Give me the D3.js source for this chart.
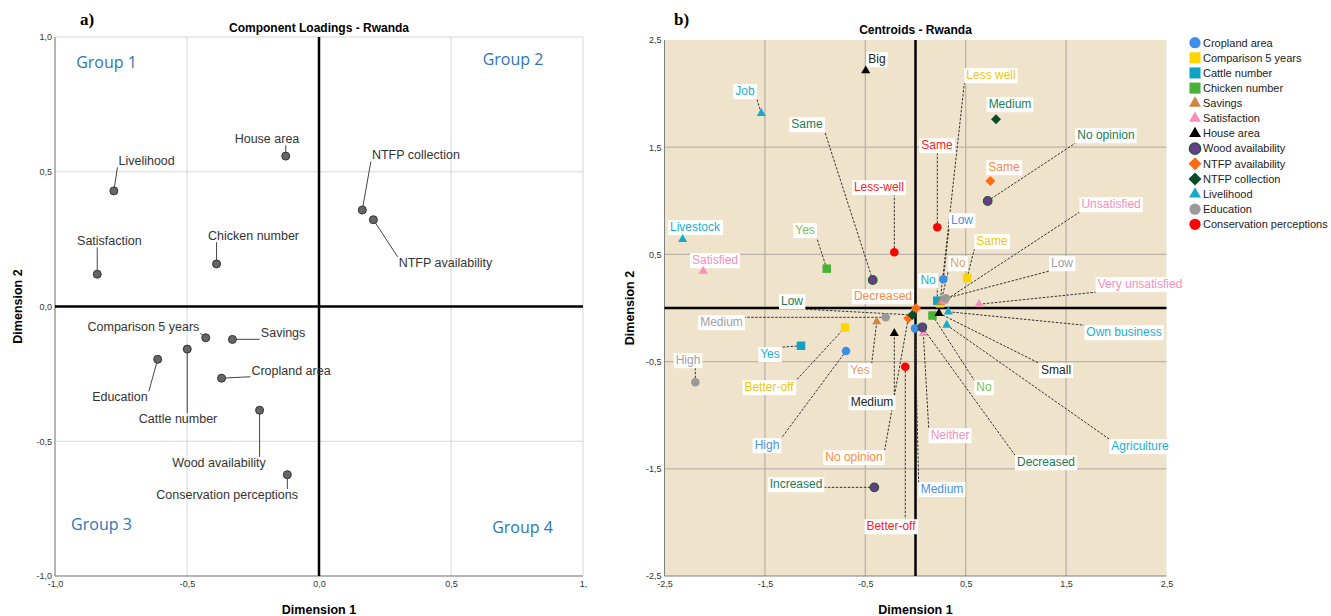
<!DOCTYPE html>
<html>
<head>
<meta charset="utf-8">
<script src="https://cdn.jsdelivr.net/npm/d3@7"></script>
<style>
  body { margin: 0; background: #fff; }
  text { font-family: Arial, "Liberation Sans", sans-serif; }
</style>
</head>
<body>
<svg id="chart" width="1331" height="616"></svg>
<script>
// ---- a) component loadings ----
var loadingNames = ["Livelihood", "House area", "Satisfaction", "Chicken number", "NTFP collection",
  "NTFP availability", "Comparison 5 years", "Savings", "Cattle number", "Education",
  "Cropland area", "Wood availability", "Conservation perceptions"];
var loadingDim1 = [-0.777, -0.126, -0.840, -0.388, 0.164, 0.206, -0.429, -0.328, -0.499, -0.611, -0.369, -0.225, -0.120];
var loadingDim2 = [0.429, 0.558, 0.120, 0.158, 0.358, 0.322, -0.116, -0.122, -0.158, -0.196, -0.266, -0.385, -0.624];
// where each label sits (loading units)
var loadingLabelDim1 = [-0.653, -0.197, -0.794, -0.248, 0.367, 0.479, -0.665, -0.136, -0.534, -0.754, -0.106, -0.379, -0.348];
var loadingLabelDim2 = [0.540, 0.622, 0.243, 0.262, 0.562, 0.163, -0.076, -0.098, -0.417, -0.336, -0.237, -0.579, -0.698];

var groupNames = ["Group 1", "Group 2", "Group 3", "Group 4"];
var groupDim1 = [-0.805, 0.735, -0.824, 0.771];
var groupDim2 = [0.904, 0.918, -0.807, -0.818];

var loadingTicks = [-1, -0.5, 0, 0.5, 1];
var loadingXTickLabels = ["-1,0", "-0,5", "0,0", "0,5", "1,"];
var loadingYTickLabels = ["-1,0", "-0,5", "0,0", "0,5", "1,0"];

// ---- b) centroids ----
var centroidVars = ["Cropland area", "Comparison 5 years", "Cattle number", "Chicken number", "Savings",
  "Satisfaction", "House area", "Wood availability", "NTFP availability", "NTFP collection",
  "Livelihood", "Education", "Conservation perceptions"];
var centroidVar = [0, 0, 0, 1, 1, 1, 2, 2, 3, 3, 4, 4, 5, 5, 5, 5, 6, 6, 6, 7, 7, 7, 7, 8, 8, 8, 9, 9, 10, 10, 10, 10, 11, 11, 11, 12, 12, 12];
var centroidCat = ["Low", "Medium", "High",
  "Less well", "Same", "Better-off",
  "No", "Yes",
  "Yes", "No",
  "Yes", "No",
  "Satisfied", "Unsatisfied", "Very unsatisfied", "Neither",
  "Big", "Medium", "Small",
  "Same", "No opinion", "Increased", "Decreased",
  "Same", "Decreased", "No opinion",
  "Medium", "Low",
  "Job", "Livestock", "Own business", "Agriculture",
  "Low", "Medium", "High",
  "Same", "Less-well", "Better-off"];
var centroidDim1 = [0.277, -0.005, -0.692,
  0.244, 0.513, -0.702,
  0.217, -1.140,
  -0.884, 0.169,
  -0.386, 0.254,
  -2.114, 0.284, 0.632, 0.078,
  -0.496, -0.211, 0.234,
  -0.426, 0.719, -0.410, 0.068,
  0.745, 0.005, -0.072,
  0.802, -0.032,
  -1.536, -2.319, 0.327, 0.311,
  0.301, -0.297, -2.193,
  0.217, -0.211, -0.102];
var centroidDim2 = [0.268, -0.190, -0.401,
  0.044, 0.280, -0.182,
  0.068, -0.352,
  0.367, -0.070,
  -0.128, 0.056,
  0.345, 0.065, 0.035, -0.236,
  2.214, -0.236, -0.049,
  0.261, 0.998, -1.673, -0.180,
  1.185, -0.003, -0.096,
  1.760, -0.065,
  1.816, 0.641, -0.035, -0.159,
  0.090, -0.087, -0.693,
  0.753, 0.520, -0.548];
// label centres (dimension units)
var centroidLabelDim1 = [0.463, 0.264, -1.479,
  0.752, 0.762, -1.459,
  0.125, -1.449,
  -1.100, 0.682,
  -0.553, 0.423,
  -1.997, 1.948, 2.236, 0.344,
  -0.383, -0.433, 1.400,
  -1.081, 1.897, -1.190, 1.300,
  0.881, -0.324, -0.613,
  0.941, -1.230,
  -1.699, -2.196, 2.077, 2.236,
  1.459, -1.932, -2.266,
  0.214, -0.364, -0.244];
var centroidLabelDim2 = [0.821, -1.688, -1.278,
  2.173, 0.625, -0.737,
  0.261, -0.429,
  0.728, -0.737,
  -0.578, 0.420,
  0.448, 0.970, 0.224, -1.185,
  2.323, -0.877, -0.578,
  1.716, 1.614, -1.642, -1.437,
  1.315, 0.112, -1.390,
  1.903, 0.065,
  2.024, 0.756, -0.224, -1.287,
  0.420, -0.131, -0.485,
  1.520, 1.129, -2.034];

var centroidTicks = [-2.5, -1.5, -0.5, 0.5, 1.5, 2.5];
var centroidTickLabels = ["-2,5", "-1,5", "-0,5", "0,5", "1,5", "2,5"];

// marker look per variable
var varShape = ["circle", "square", "square", "square", "triangle", "triangle", "triangle",
  "circle", "diamond", "diamond", "triangle", "circle", "circle"];
var varFill = ["#3d8ee6", "#ffd400", "#0fa2c4", "#47b236", "#cf8641", "#f68fbd", "#000000",
  "#6b3a8c", "#ff6a10", "#0b4d2a", "#18aacb", "#999999", "#ff0000"];
var varText = ["#4a8fe0", "#f0c800", "#19b0d0", "#7cc04e", "#e0a070", "#f590bb", "#222222",
  "#1d7a55", "#ff8a3d", "#1d7a55", "#19b0d0", "#a0a0a0", "#ff2020"];

var svg = d3.select("#chart");

function nearestOnBox(px, py, b) {
  return [Math.max(b.x, Math.min(px, b.x + b.width)), Math.max(b.y, Math.min(py, b.y + b.height))];
}

function symbolPath(shape, big) {
  var s = big ? 1.7 : 1;
  if (shape === "circle") return d3.symbol(d3.symbolCircle, 58 * s)();
  if (shape === "square") return d3.symbol(d3.symbolSquare, 72 * s)();
  if (shape === "triangle") return d3.symbol(d3.symbolTriangle, 36 * s)();
  return d3.symbol(d3.symbolSquare, 50 * s)();
}

// ================= panel a =================
var xa = d3.scaleLinear().domain([-1, 1]).range([55, 583]);
var ya = d3.scaleLinear().domain([-1, 1]).range([576, 37]);
var ga = svg.append("g");

ga.selectAll(".vgrid")
  .data(loadingTicks.filter(function(d) { return d !== 0; }))
  .enter().append("line")
  .attr("x1", function(d) { return xa(d); }).attr("x2", function(d) { return xa(d); })
  .attr("y1", ya(1)).attr("y2", ya(-1))
  .attr("stroke", "#d6d6d6").attr("stroke-width", 1);
ga.selectAll(".hgrid")
  .data(loadingTicks.filter(function(d) { return d !== 0; }))
  .enter().append("line")
  .attr("y1", function(d) { return ya(d); }).attr("y2", function(d) { return ya(d); })
  .attr("x1", xa(-1)).attr("x2", xa(1))
  .attr("stroke", "#d6d6d6").attr("stroke-width", 1);

ga.append("line").attr("x1", xa(-1)).attr("x2", xa(-1)).attr("y1", ya(1)).attr("y2", ya(-1))
  .attr("stroke", "#808080");
ga.append("line").attr("x1", xa(-1)).attr("x2", xa(1)).attr("y1", ya(-1)).attr("y2", ya(-1))
  .attr("stroke", "#808080");
ga.append("line").attr("x1", xa(0)).attr("x2", xa(0)).attr("y1", ya(1)).attr("y2", ya(-1))
  .attr("stroke", "#000").attr("stroke-width", 2.5);
ga.append("line").attr("x1", xa(-1)).attr("x2", xa(1)).attr("y1", ya(0)).attr("y2", ya(0))
  .attr("stroke", "#000").attr("stroke-width", 2.5);

var axA = ga.append("g").attr("transform", "translate(0," + ya(-1) + ")")
  .call(d3.axisBottom(xa).tickValues(loadingTicks).tickSize(0).tickPadding(5)
    .tickFormat(function(d, i) { return loadingXTickLabels[i]; }));
var ayA = ga.append("g").attr("transform", "translate(" + xa(-1) + ",0)")
  .call(d3.axisLeft(ya).tickValues(loadingTicks).tickSize(0).tickPadding(3)
    .tickFormat(function(d, i) { return loadingYTickLabels[i]; }));
[axA, ayA].forEach(function(a) {
  a.select(".domain").remove();
  a.selectAll("text").style("font-size", "9px").attr("fill", "#333")
    .style("font-family", "Arial, 'Liberation Sans', sans-serif");
});

ga.selectAll(".group").data(groupNames).enter().append("text")
  .attr("x", function(d, i) { return xa(groupDim1[i]); })
  .attr("y", function(d, i) { return ya(groupDim2[i]); })
  .attr("dy", "0.35em").attr("text-anchor", "middle")
  .style("font-family", "'Open Sans', sans-serif").style("font-size", "16px")
  .attr("fill", "#2e75b6").text(function(d) { return d; });

var loadLabels = ga.selectAll(".lload").data(loadingNames).enter().append("text")
  .attr("class", "lload")
  .attr("x", function(d, i) { return xa(loadingLabelDim1[i]); })
  .attr("y", function(d, i) { return ya(loadingLabelDim2[i]); })
  .attr("dy", "0.35em").attr("text-anchor", "middle")
  .style("font-size", "12.5px").attr("fill", "#333").text(function(d) { return d; });

loadLabels.each(function(d, i) {
  var b = this.getBBox();
  b = { x: b.x - 1, y: b.y + 1, width: b.width + 2, height: b.height - 2 };
  var px = xa(loadingDim1[i]), py = ya(loadingDim2[i]);
  var p = nearestOnBox(px, py, b);
  if (Math.hypot(p[0] - px, p[1] - py) > 4) {
    ga.insert("line", ".lload").attr("x1", px).attr("y1", py).attr("x2", p[0]).attr("y2", p[1])
      .attr("stroke", "#444").attr("stroke-width", 1);
  }
});

ga.selectAll(".dot").data(loadingNames).enter().append("circle")
  .attr("cx", function(d, i) { return xa(loadingDim1[i]); })
  .attr("cy", function(d, i) { return ya(loadingDim2[i]); })
  .attr("r", 4).attr("fill", "#666").attr("stroke", "#333").attr("stroke-width", 1);

ga.append("text").attr("x", xa(0)).attr("y", 32).attr("text-anchor", "middle")
  .style("font-size", "12px").style("font-weight", "bold").text("Component Loadings - Rwanda");
ga.append("text").attr("x", xa(0)).attr("y", 614).attr("text-anchor", "middle")
  .style("font-size", "12.5px").style("font-weight", "bold").text("Dimension 1");
ga.append("text").attr("transform", "translate(22," + ya(0) + ") rotate(-90)")
  .attr("text-anchor", "middle")
  .style("font-size", "12.5px").style("font-weight", "bold").text("Dimension 2");
ga.append("text").attr("x", 80).attr("y", 25)
  .style("font-family", "'Liberation Serif', 'DejaVu Serif', serif").style("font-size", "17px")
  .style("font-weight", "bold").text("a)");

// ================= panel b =================
var xb = d3.scaleLinear().domain([-2.5, 2.5]).range([664.5, 1166.5]);
var yb = d3.scaleLinear().domain([-2.5, 2.5]).range([576, 40]);
var gb = svg.append("g");

gb.append("rect").attr("x", xb(-2.5)).attr("y", yb(2.5))
  .attr("width", xb(2.5) - xb(-2.5)).attr("height", yb(-2.5) - yb(2.5))
  .attr("fill", "#efe3cc");

var inner = centroidTicks.filter(function(d) { return Math.abs(d) < 2.5; });
gb.selectAll(".vgrid").data(inner).enter().append("line")
  .attr("x1", function(d) { return xb(d); }).attr("x2", function(d) { return xb(d); })
  .attr("y1", yb(2.5)).attr("y2", yb(-2.5))
  .attr("stroke", "#b9b3aa").attr("stroke-width", 1.3);
gb.selectAll(".hgrid").data(inner).enter().append("line")
  .attr("y1", function(d) { return yb(d); }).attr("y2", function(d) { return yb(d); })
  .attr("x1", xb(-2.5)).attr("x2", xb(2.5))
  .attr("stroke", "#b9b3aa").attr("stroke-width", 1.3);

gb.append("line").attr("x1", xb(-2.5)).attr("x2", xb(-2.5)).attr("y1", yb(2.5)).attr("y2", yb(-2.5))
  .attr("stroke", "#808080");
gb.append("line").attr("x1", xb(-2.5)).attr("x2", xb(2.5)).attr("y1", yb(-2.5)).attr("y2", yb(-2.5))
  .attr("stroke", "#808080");
gb.append("line").attr("x1", xb(0)).attr("x2", xb(0)).attr("y1", yb(2.5)).attr("y2", yb(-2.5))
  .attr("stroke", "#000").attr("stroke-width", 2.5);
gb.append("line").attr("x1", xb(-2.5)).attr("x2", xb(2.5)).attr("y1", yb(0)).attr("y2", yb(0))
  .attr("stroke", "#000").attr("stroke-width", 2.5);

var axB = gb.append("g").attr("transform", "translate(0," + yb(-2.5) + ")")
  .call(d3.axisBottom(xb).tickValues(centroidTicks).tickSize(0).tickPadding(5)
    .tickFormat(function(d, i) { return centroidTickLabels[i]; }));
var ayB = gb.append("g").attr("transform", "translate(" + xb(-2.5) + ",0)")
  .call(d3.axisLeft(yb).tickValues(centroidTicks).tickSize(0).tickPadding(3)
    .tickFormat(function(d, i) { return centroidTickLabels[i]; }));
[axB, ayB].forEach(function(a) {
  a.select(".domain").remove();
  a.selectAll("text").style("font-size", "9px").attr("fill", "#333")
    .style("font-family", "Arial, 'Liberation Sans', sans-serif");
});

var leaderLayer = gb.append("g");
var labelLayer = gb.append("g");
var markLayer = gb.append("g");

var cLabels = labelLayer.selectAll("g").data(centroidCat).enter().append("g");
cLabels.append("rect").attr("fill", "#fff");
cLabels.append("text")
  .attr("x", function(d, i) { return xb(centroidLabelDim1[i]); })
  .attr("y", function(d, i) { return yb(centroidLabelDim2[i]); })
  .attr("dy", "0.35em").attr("text-anchor", "middle")
  .style("font-size", "12px")
  .attr("fill", function(d, i) { return varText[centroidVar[i]]; })
  .text(function(d) { return d; });

cLabels.each(function(d, i) {
  var t = d3.select(this).select("text").node().getBBox();
  var b = { x: t.x - 2, y: t.y, width: t.width + 4, height: t.height + 1 };
  d3.select(this).select("rect").attr("x", b.x).attr("y", b.y).attr("width", b.width).attr("height", b.height);
  var px = xb(centroidDim1[i]), py = yb(centroidDim2[i]);
  var p = nearestOnBox(px, py, b);
  if (Math.hypot(p[0] - px, p[1] - py) > 8) {
    leaderLayer.append("line").attr("x1", px).attr("y1", py).attr("x2", p[0]).attr("y2", p[1])
      .attr("stroke", "#333").attr("stroke-width", 1).attr("stroke-dasharray", "2.5,1.5");
  }
});

markLayer.selectAll("path").data(centroidCat).enter().append("path")
  .attr("d", function(d, i) { return symbolPath(varShape[centroidVar[i]], false); })
  .attr("transform", function(d, i) {
    var r = varShape[centroidVar[i]] === "diamond" ? " rotate(45)" : "";
    return "translate(" + xb(centroidDim1[i]) + "," + yb(centroidDim2[i]) + ")" + r;
  })
  .attr("fill", function(d, i) { return varFill[centroidVar[i]]; })
  .attr("stroke", function(d, i) { return centroidVar[i] === 7 ? "#1f5c3a" : "none"; })
  .attr("stroke-width", 1.2);

gb.append("text").attr("x", xb(0)).attr("y", 34).attr("text-anchor", "middle")
  .style("font-size", "12px").style("font-weight", "bold").text("Centroids - Rwanda");
gb.append("text").attr("x", xb(0)).attr("y", 614).attr("text-anchor", "middle")
  .style("font-size", "12.5px").style("font-weight", "bold").text("Dimension 1");
gb.append("text").attr("transform", "translate(634," + yb(0) + ") rotate(-90)")
  .attr("text-anchor", "middle")
  .style("font-size", "12.5px").style("font-weight", "bold").text("Dimension 2");
gb.append("text").attr("x", 674).attr("y", 25)
  .style("font-family", "'Liberation Serif', 'DejaVu Serif', serif").style("font-size", "17px")
  .style("font-weight", "bold").text("b)");

// legend
var ly = d3.scalePoint().domain(centroidVars).range([42.7, 224.3]);
var leg = gb.append("g").selectAll("g").data(centroidVars).enter().append("g")
  .attr("transform", function(d) { return "translate(1195," + ly(d) + ")"; });
leg.append("path")
  .attr("d", function(d, i) { return symbolPath(varShape[i], true); })
  .attr("transform", function(d, i) { return varShape[i] === "diamond" ? "rotate(45)" : null; })
  .attr("fill", function(d, i) { return varFill[i]; })
  .attr("stroke", function(d, i) { return i === 7 ? "#1f5c3a" : "none"; })
  .attr("stroke-width", 1.5);
leg.append("text").attr("x", 8).attr("dy", "0.35em")
  .style("font-size", "11px").attr("fill", "#222").text(function(d) { return d; });
</script>
</body>
</html>
